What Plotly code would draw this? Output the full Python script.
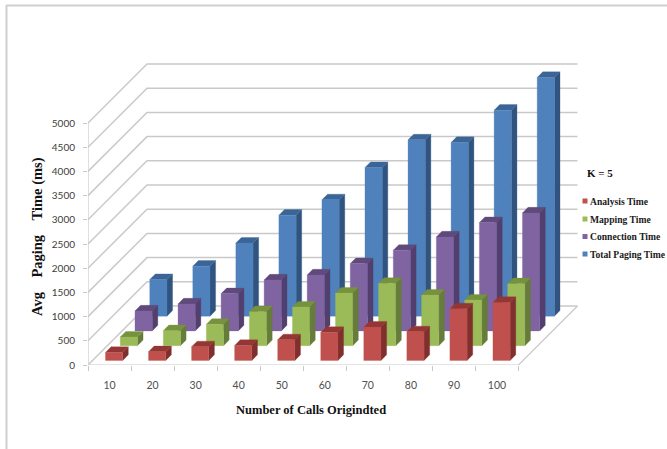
import plotly.graph_objects as go

categories = ["10", "20", "30", "40", "50", "60", "70", "80", "90", "100"]
analysis_time = [165, 180, 282, 310, 427, 579, 689, 592, 1068, 1198]
mapping_time = [179, 310, 441, 703, 799, 1088, 1288, 1047, 944, 1281]
connection_time = [413, 558, 771, 1054, 1157, 1391, 1667, 1942, 2239, 2438]
total_paging_time = [758, 1033, 1510, 2087, 2405, 3072, 3643, 3589, 4256, 4932]
y_ticks = [0, 500, 1000, 1500, 2000, 2500, 3000, 3500, 4000, 4500, 5000]

series = [
    ("Total Paging Time", total_paging_time, 3, "#4f81bd", "#30547f", "#3b6596"),
    ("Connection Time", connection_time, 2, "#8064a2", "#533f6e", "#604a7b"),
    ("Mapping Time", mapping_time, 1, "#9bbb59", "#667c3a", "#76923c"),
    ("Analysis Time", analysis_time, 0, "#c0504d", "#7f2f2d", "#943634"),
]

W, H = 667, 449
L, R, T, B = 88, 580, 58, 365
CAT_PX, UNIT_PX = 43.05, 24.2 / 500
DEPTH_PX = 14.75  # oblique shift per series slot
BAR_W, BAR_D = 0.40, 0.38
n = len(categories)


def proj(i, d, v):
    return i + d * DEPTH_PX / CAT_PX, v + d * DEPTH_PX / UNIT_PX


def poly(points):
    xs, ys = [], []
    for p in points:
        x, y = proj(*p)
        xs.append(x)
        ys.append(y)
    xs.append(xs[0])
    ys.append(ys[0])
    return xs, ys


def px(x):
    return (x - L) / (R - L)


def py(y):
    return (B - y) / (B - T)


fig = go.Figure()
GRID = "#c9c9c9"
D = 4


def line(pts, width=1.5, color=GRID):
    xs, ys = zip(*[proj(*p) for p in pts])
    fig.add_trace(go.Scatter(x=xs, y=ys, mode="lines", showlegend=False, hoverinfo="skip",
                             line=dict(color=color, width=width)))


for v in y_ticks:
    line([(0, 0, v), (0, D, v), (n, D, v)])
line([(0, 0, 0), (0, 0, y_ticks[-1])], 1.2)
line([(0, 0, 0), (n, 0, 0), (n, D, 0)], 1.2)

for name, vals, s, c_front, c_side, c_top in series:
    fx, fy, sx, sy, tx, ty = [], [], [], [], [], []
    for k, v in enumerate(vals):
        x0 = k + (1 - BAR_W) / 2
        x1 = x0 + BAR_W
        d0 = s + (1 - BAR_D) / 2
        d1 = d0 + BAR_D
        a, b = poly([(x0, d0, 0), (x1, d0, 0), (x1, d0, v), (x0, d0, v)])
        fx += a + [None]; fy += b + [None]
        a, b = poly([(x1, d0, 0), (x1, d1, 0), (x1, d1, v), (x1, d0, v)])
        sx += a + [None]; sy += b + [None]
        a, b = poly([(x0, d0, v), (x1, d0, v), (x1, d1, v), (x0, d1, v)])
        tx += a + [None]; ty += b + [None]
    for xs, ys, col in ((sx, sy, c_side), (tx, ty, c_top), (fx, fy, c_front)):
        fig.add_trace(go.Scatter(x=xs, y=ys, mode="lines", fill="toself", fillcolor=col,
                                 line=dict(color=col, width=0.3), name=name, showlegend=False,
                                 hoverinfo="skip"))

tick_font = dict(family="Lato", size=10.5, color="#505050")
fig.update_xaxes(range=[0, (R - L) / CAT_PX], showgrid=False, zeroline=False, showline=False,
                 tickmode="array", tickvals=[i + 0.5 for i in range(n)], ticktext=categories,
                 ticks="", tickfont=tick_font, ticklabelstandoff=12,
                 minor=dict(tickmode="array", tickvals=list(range(n + 1)), ticks="outside",
                            ticklen=5, tickcolor=GRID, tickwidth=1.2, showgrid=False))
fig.update_yaxes(range=[0, (B - T) / UNIT_PX], showgrid=False, zeroline=False, showline=False,
                 tickmode="array", tickvals=y_ticks, ticks="outside", ticklen=4, tickcolor=GRID,
                 tickwidth=1.2, tickfont=dict(family="Lato", size=10, color="#404040"),
                 ticklabelstandoff=6)

serif = "Liberation Serif"
gap = "\u00a0\u00a0\u00a0\u00a0"
notes = [
    dict(x=px(311), y=py(410), text="<b>Number of Calls Origindted</b>",
         font=dict(family=serif, size=12.5, color="#111111"), xanchor="center"),
    dict(x=px(37), y=py(237), text=f"<b>Avg{gap}Paging{gap}Time\u00a0(ms)</b>", textangle=-90,
         font=dict(family=serif, size=14.5, color="#111111"), xanchor="center"),
    dict(x=px(585), y=py(173), text="<b>K = 5</b>",
         font=dict(family=serif, size=11, color="#111111"), xanchor="left"),
]
shapes = [
    dict(type="line", xref="paper", yref="paper", x0=px(6), x1=px(667), y0=py(5.5), y1=py(5.5),
         line=dict(color="#d0d0d0", width=2)),
    dict(type="line", xref="paper", yref="paper", x0=px(6.5), x1=px(6.5), y0=py(5), y1=py(449),
         line=dict(color="#d0d0d0", width=2)),
]
legend_rows = [("Analysis Time", "#c0504d", 201), ("Mapping Time", "#9bbb59", 219),
               ("Connection Time", "#8064a2", 236.5), ("Total Paging Time", "#4f81bd", 254)]
for label, col, y in legend_rows:
    notes.append(dict(x=px(588), y=py(y), text=f"<b>{label}</b>", xanchor="left",
                      font=dict(family=serif, size=9.6, color="#1a1a1a")))
    shapes.append(dict(type="rect", xref="paper", yref="paper", x0=px(582.5), x1=px(587.5),
                       y0=py(y + 2.5), y1=py(y - 2.5), fillcolor=col, line=dict(width=0)))
for a in notes:
    a.update(xref="paper", yref="paper", showarrow=False, yanchor="middle")

fig.update_layout(width=W, height=H, autosize=False, showlegend=False,
                  margin=dict(l=L, r=W - R, t=T, b=H - B, pad=0),
                  paper_bgcolor="white", plot_bgcolor="white",
                  annotations=notes, shapes=shapes)
fig.write_html("out.html", config=dict(displayModeBar=False),
               post_script="document.body.style.margin='0';")
